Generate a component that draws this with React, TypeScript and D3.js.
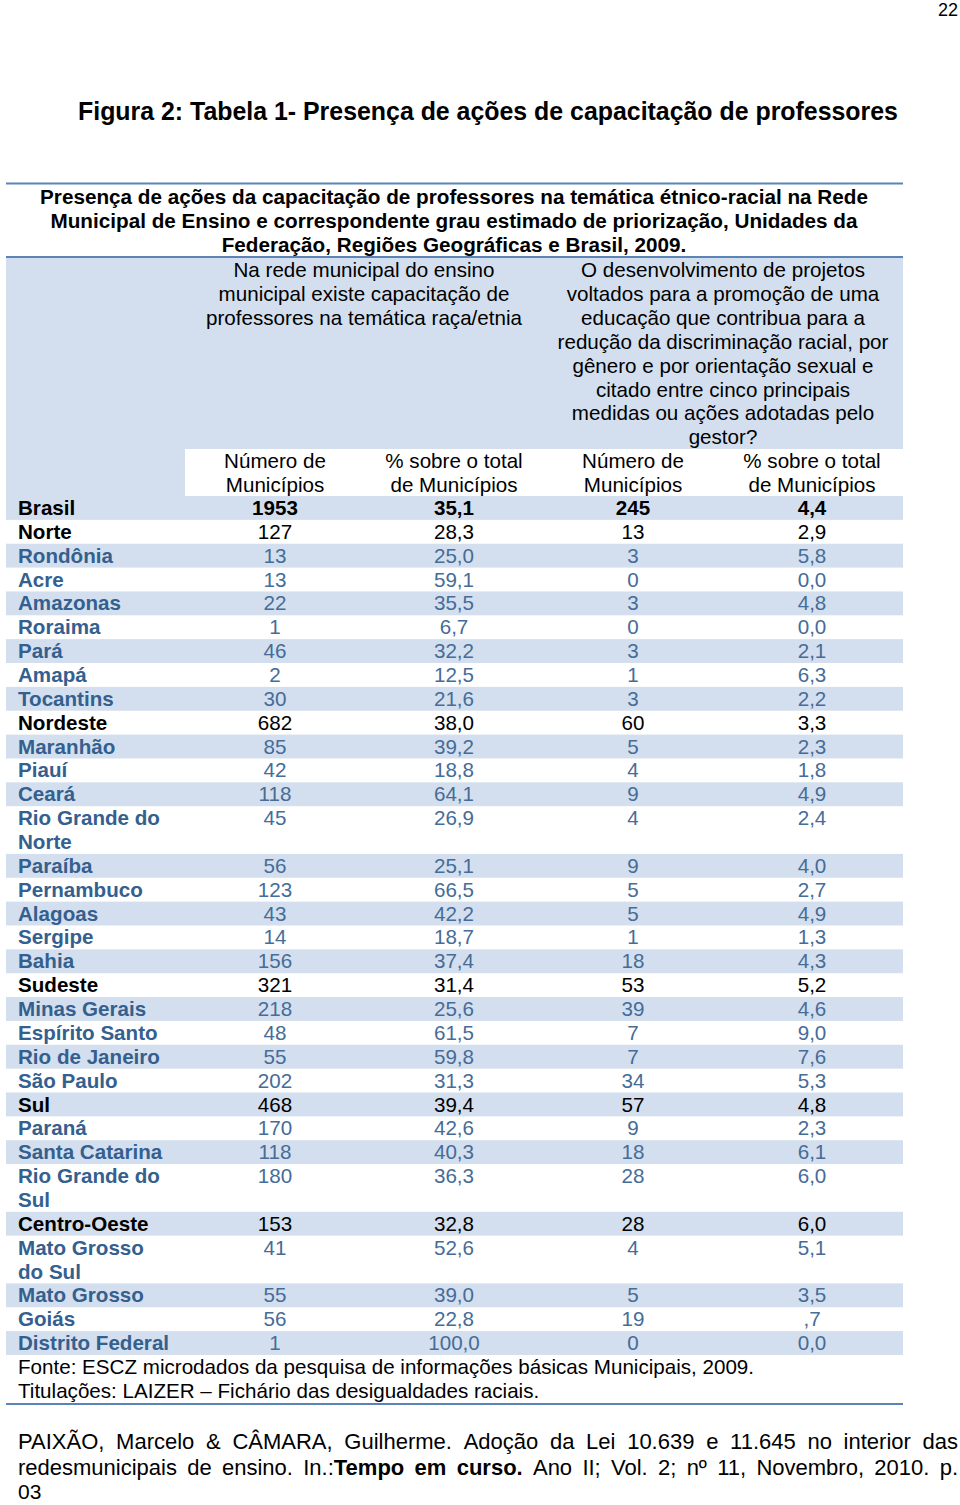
import React from "react";
import * as d3 from "d3";

const pageNumber = "22";
const figureTitle = "Figura 2: Tabela 1- Presença de ações de capacitação de professores";
const subtitleLines = [
  "Presença de ações da capacitação de professores na temática étnico-racial na Rede",
  "Municipal de Ensino e correspondente grau estimado de priorização, Unidades da",
  "Federação, Regiões Geográficas e Brasil, 2009.",
];
const headerA = [
  "Na rede municipal do ensino",
  "municipal existe capacitação de",
  "professores na temática raça/etnia",
];
const headerB = [
  "O desenvolvimento de projetos",
  "voltados para a promoção de uma",
  "educação que contribua para a",
  "redução da discriminação racial, por",
  "gênero e por orientação sexual e",
  "citado entre cinco principais",
  "medidas ou ações adotadas pelo",
  "gestor?",
];
const subHeaders = [
  ["Número de", "Municípios"],
  ["% sobre o total", "de Municípios"],
  ["Número de", "Municípios"],
  ["% sobre o total", "de Municípios"],
];

const rowLabels = [
  "Brasil", "Norte", "Rondônia", "Acre", "Amazonas", "Roraima", "Pará", "Amapá", "Tocantins",
  "Nordeste", "Maranhão", "Piauí", "Ceará", "Rio Grande do|Norte", "Paraíba", "Pernambuco",
  "Alagoas", "Sergipe", "Bahia", "Sudeste", "Minas Gerais", "Espírito Santo", "Rio de Janeiro",
  "São Paulo", "Sul", "Paraná", "Santa Catarina", "Rio Grande do|Sul", "Centro-Oeste",
  "Mato Grosso|do Sul", "Mato Grosso", "Goiás", "Distrito Federal",
];
const rowKinds = [
  "total", "region", "state", "state", "state", "state", "state", "state", "state",
  "region", "state", "state", "state", "state", "state", "state",
  "state", "state", "state", "region", "state", "state", "state",
  "state", "region", "state", "state", "state", "region",
  "state", "state", "state", "state",
];
const munCapacitacao = [
  1953, 127, 13, 13, 22, 1, 46, 2, 30,
  682, 85, 42, 118, 45, 56, 123,
  43, 14, 156, 321, 218, 48, 55,
  202, 468, 170, 118, 180, 153,
  41, 55, 56, 1,
];
const pctCapacitacao = [
  "35,1", "28,3", "25,0", "59,1", "35,5", "6,7", "32,2", "12,5", "21,6",
  "38,0", "39,2", "18,8", "64,1", "26,9", "25,1", "66,5",
  "42,2", "18,7", "37,4", "31,4", "25,6", "61,5", "59,8",
  "31,3", "39,4", "42,6", "40,3", "36,3", "32,8",
  "52,6", "39,0", "22,8", "100,0",
];
const munProjetos = [
  245, 13, 3, 0, 3, 0, 3, 1, 3,
  60, 5, 4, 9, 4, 9, 5,
  5, 1, 18, 53, 39, 7, 7,
  34, 57, 9, 18, 28, 28,
  4, 5, 19, 0,
];
const pctProjetos = [
  "4,4", "2,9", "5,8", "0,0", "4,8", "0,0", "2,1", "6,3", "2,2",
  "3,3", "2,3", "1,8", "4,9", "2,4", "4,0", "2,7",
  "4,9", "1,3", "4,3", "5,2", "4,6", "9,0", "7,6",
  "5,3", "4,8", "2,3", "6,1", "6,0", "6,0",
  "5,1", "3,5", ",7", "0,0",
];
const sourceLines = [
  "Fonte: ESCZ microdados da pesquisa de informações básicas Municipais, 2009.",
  "Titulações: LAIZER – Fichário das desigualdades raciais.",
];
// citation lines: words, with "*" prefix marking bold words
const citationLines = [
  "PAIXÃO, Marcelo & CÂMARA, Guilherme. Adoção da Lei 10.639 e 11.645 no interior das",
  "redesmunicipais de ensino. In.:*Tempo *em *curso. Ano II; Vol. 2; nº 11, Novembro, 2010. p.",
];
const citationLast = "03";

const FONT = "'Liberation Sans', Arial, Helvetica, sans-serif";
const BAND = "#d3dfee";
const RULE = "#5b83b5";
const STATE_LABEL = "#34608f";
const STATE_VALUE = "#466c98";
const FS = 20.6;

function measure(text: string, size: number, bold: boolean) {
  if (typeof document === "undefined") return text.length * size * 0.5;
  const c = document.createElement("canvas");
  const ctx = c.getContext("2d");
  if (!ctx) return text.length * size * 0.5;
  ctx.font = `${bold ? "bold " : ""}${size}px 'Liberation Sans', Arial, sans-serif`;
  return ctx.measureText(text).width;
}

function JustifiedLine({ line, x0, x1, y, size }: { line: string; x0: number; x1: number; y: number; size: number }) {
  const words = line.split(" ").map((w) => {
    const idx = w.indexOf("*");
    if (idx < 0) return [{ t: w, b: false }];
    const parts = [] as { t: string; b: boolean }[];
    if (idx > 0) parts.push({ t: w.slice(0, idx), b: false });
    parts.push({ t: w.slice(idx + 1), b: true });
    return parts;
  });
  const widths = words.map((ps) => d3.sum(ps, (p) => measure(p.t, size, p.b)));
  const gap = (x1 - x0 - d3.sum(widths)) / (words.length - 1);
  let x = x0;
  const out: React.ReactNode[] = [];
  words.forEach((ps, i) => {
    let px = x;
    ps.forEach((p, k) => {
      out.push(
        <text key={`${i}-${k}`} x={px} y={y} fontSize={size} fontWeight={p.b ? "bold" : "normal"} fill="#000">{p.t}</text>
      );
      px += measure(p.t, size, p.b);
    });
    x += widths[i] + gap;
  });
  return <g>{out}</g>;
}

export default function App() {
  const W = 960;
  const H = 1505;
  const tableLeft = 6;
  const tableRight = 903;
  const firstColRight = 185;
  const lineH = 23.86;

  const colX = d3.scalePoint<number>().domain([0, 1, 2, 3]).range([275, 812]);

  const lineCounts = rowLabels.map((l) => l.split("|").length);
  const starts = d3.cumsum([0, ...lineCounts.slice(0, -1)]);
  const totalUnits = d3.sum(lineCounts);
  const yUnit = d3.scaleLinear().domain([0, totalUnits]).range([496, 496 + totalUnits * lineH]);

  const values = (i: number) => [
    String(munCapacitacao[i]),
    pctCapacitacao[i],
    String(munProjetos[i]),
    pctProjetos[i],
  ];

  return (
    <svg width={W} height={H} viewBox={`0 0 ${W} ${H}`} style={{ display: "block", position: "absolute", left: 0, top: 0 }} fontFamily={FONT}>
      <rect x={0} y={0} width={W} height={H} fill="#fff" />
      <text x={958} y={16} textAnchor="end" fontSize={18} fill="#000">{pageNumber}</text>
      <text x={488} y={120} textAnchor="middle" fontSize={24.9} fontWeight="bold" fill="#000">{figureTitle}</text>

      <line x1={tableLeft} x2={tableRight} y1={183.5} y2={183.5} stroke={RULE} strokeWidth={2} />
      {subtitleLines.map((s, k) => (
        <text key={k} x={454} y={203.5 + k * 24} textAnchor="middle" fontSize={20.7} fontWeight="bold" fill="#000">{s}</text>
      ))}
      <line x1={tableLeft} x2={tableRight} y1={257} y2={257} stroke={RULE} strokeWidth={2} />

      {/* header bands */}
      <rect x={tableLeft} y={258} width={tableRight - tableLeft} height={191} fill={BAND} />
      <rect x={tableLeft} y={449} width={firstColRight - tableLeft} height={48} fill={BAND} />

      {headerA.map((s, k) => (
        <text key={k} x={364} y={277 + k * 23.9} textAnchor="middle" fontSize={FS} fill="#000">{s}</text>
      ))}
      {headerB.map((s, k) => (
        <text key={k} x={723} y={277 + k * 23.9} textAnchor="middle" fontSize={FS} fill="#000">{s}</text>
      ))}
      {subHeaders.map((lines, c) =>
        lines.map((s, k) => (
          <text key={`${c}-${k}`} x={colX(c)} y={468 + k * 24} textAnchor="middle" fontSize={FS} fill="#000">{s}</text>
        ))
      )}

      {/* row bands */}
      {rowLabels.map((_, i) =>
        i % 2 === 0 ? (
          <rect key={`b${i}`} x={tableLeft} y={yUnit(starts[i])} width={tableRight - tableLeft}
            height={yUnit(starts[i] + lineCounts[i]) - yUnit(starts[i])} fill={BAND} />
        ) : null
      )}

      {rowLabels.map((label, i) => {
        const kind = rowKinds[i];
        const labelFill = kind === "state" ? STATE_LABEL : "#000";
        const valueFill = kind === "state" ? STATE_VALUE : "#000";
        const top = yUnit(starts[i]);
        return (
          <g key={`r${i}`}>
            {label.split("|").map((part, k) => (
              <text key={k} x={18} y={top + 19 + k * lineH} fontSize={FS} fontWeight="bold" fill={labelFill}>{part}</text>
            ))}
            {values(i).map((v, c) => (
              <text key={c} x={colX(c)} y={top + 19} textAnchor="middle" fontSize={FS}
                fontWeight={kind === "total" ? "bold" : "normal"} fill={valueFill}>{v}</text>
            ))}
          </g>
        );
      })}

      {sourceLines.map((s, k) => (
        <text key={k} x={18} y={yUnit(totalUnits) + 19 + k * lineH} fontSize={FS} fill="#000">{s}</text>
      ))}
      <line x1={tableLeft} x2={tableRight} y1={1404} y2={1404} stroke={RULE} strokeWidth={2} />

      {citationLines.map((l, k) => (
        <JustifiedLine key={k} line={l} x0={18} x1={958} y={1449 + k * 26} size={22} />
      ))}
      <text x={18} y={1499} fontSize={21} fill="#000">{citationLast}</text>
    </svg>
  );
}
